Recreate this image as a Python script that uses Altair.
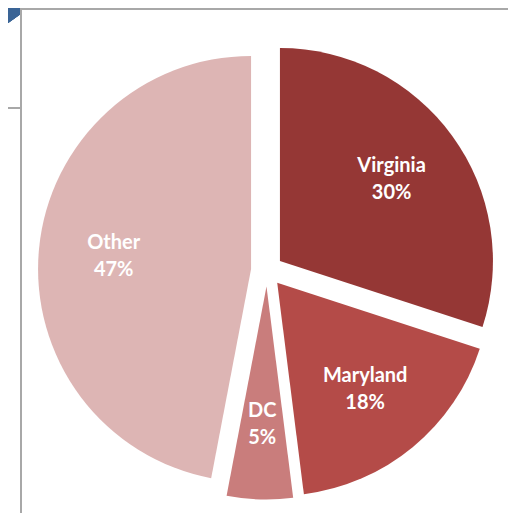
import altair as alt
import pandas as pd

categories = ["Virginia", "Maryland", "DC", "Other"]
values = [30, 18, 5, 47]
colors = ["#953735", "#B44B48", "#C97D7C", "#DDB5B4"]

df = pd.DataFrame({"cat": categories, "value": values, "idx": list(range(len(categories)))})

W, H = 500, 505
CX, CY = 259, 262.5
R = 213
EXPLODE = 16
RL = 138

base = alt.Chart(df).transform_window(
    cum="sum(value)", sort=[alt.SortField("idx")], frame=[None, 0]
).transform_joinaggregate(
    total="sum(value)"
).transform_calculate(
    start="2*PI*(datum.cum-datum.value)/datum.total",
    end="2*PI*datum.cum/datum.total",
).transform_calculate(
    mid="(datum.start+datum.end)/2"
).transform_calculate(
    cx=f"{CX}+{EXPLODE}*sin(datum.mid)",
    cy=f"{CY}-{EXPLODE}*cos(datum.mid)",
).transform_calculate(
    lx=f"datum.cx+{RL}*sin(datum.mid)",
    ly=f"datum.cy-{RL}*cos(datum.mid)",
    label="[datum.cat, format(datum.value/datum.total, '.0%')]",
)

slices = base.mark_arc(radius=R).encode(
    x=alt.X("cx:Q", scale=None),
    y=alt.Y("cy:Q", scale=None),
    theta=alt.Theta("start:Q", scale=None, stack=None),
    theta2=alt.Theta2("end:Q"),
    color=alt.Color("cat:N", scale=alt.Scale(domain=categories, range=colors), legend=None),
)

labels = base.mark_text(
    font="Lato", fontSize=20, fontWeight="bold", color="white",
    align="center", baseline="middle", lineHeight=27, dy=-13.5,
).encode(
    x=alt.X("lx:Q", scale=None),
    y=alt.Y("ly:Q", scale=None),
    text="label:N",
)

blue = alt.Chart(df).mark_arc(
    radius=208, theta=0, theta2=6.2832, color="#3A6496", opacity=1
).encode(
    x=alt.value(-114), y=alt.value(-159)
)
frame = alt.Chart(df).mark_rect(fill="white", stroke="#A8A8A8", strokeWidth=2).encode(
    x=alt.value(13), x2=alt.value(700), y=alt.value(1), y2=alt.value(700)
)
hline = alt.Chart(df).mark_rule(color="#A8A8A8", strokeWidth=2).encode(
    x=alt.value(0), x2=alt.value(12), y=alt.value(100)
)

chart = alt.layer(blue, frame, hline, slices, labels).properties(
    width=W, height=H, padding=0, autosize=alt.AutoSizeParams(type="none")
).configure_view(strokeWidth=0)

chart.save("out.html", embed_options={"renderer": "svg", "actions": False})
